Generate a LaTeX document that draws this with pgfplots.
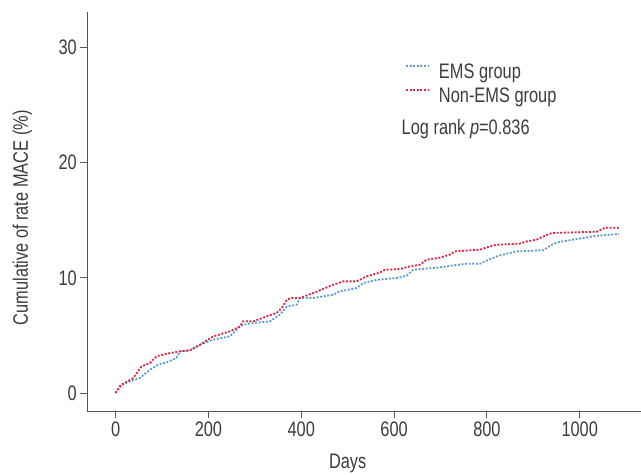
\documentclass[border=0pt]{standalone}
\usepackage{fontspec}
\setmainfont{Liberation Sans}[FakeStretch=0.78]
\usepackage{pgfplots}
\pgfplotsset{compat=1.18}
\definecolor{emsblue}{RGB}{90,155,215}
\definecolor{nemsred}{RGB}{222,36,66}
\definecolor{txt}{RGB}{60,60,60}
\definecolor{axc}{RGB}{85,85,85}
\newcommand\lbl{\fontsize{21}{25}\selectfont}
\begin{document}
\begin{tikzpicture}
\begin{axis}[
 name=ax,
 scale only axis, width=553.7pt, height=399.7pt,
 xmin=-61, xmax=1132, ymin=-1.6, ymax=33.1,
 clip=false,
 axis lines*=left,
 axis line style={axc, line width=0.9pt},
 xtick={0,200,400,600,800,1000}, ytick={0,10,20,30},
 tick style={axc, line width=0.9pt},
 tick align=outside, major tick length=7pt,
 tick label style={font=\lbl, text=txt},
 /pgf/number format/assume math mode=true,
 /pgf/number format/set thousands separator={},
 legend style={at={(axis cs:623.5,28.65)}, anchor=north west, draw=none, fill=none,
   inner sep=0pt, row sep=5.3pt, font=\lbl, text=txt,
   nodes={inner sep=0pt, text height=15pt, text depth=4pt}},
 legend cell align=left,
 legend image code/.code={\draw[#1] (0pt,7pt) -- (23pt,7pt); \path (32pt,7pt);},
]
\addplot[emsblue, line width=1.8pt, dash pattern=on 2pt off 1.6pt] coordinates {
(0,0) (9,0.63) (31,1.01) (52,1.30) (74,2.02) (92,2.46) (110,2.66) (131,3.04)
(139,3.61) (160,3.70) (182,4.19) (210,4.63) (246,4.91) (268,5.78) (275,5.93)
(297,6.08) (333,6.22) (354,6.80) (369,7.52) (390,7.66) (397,8.25) (426,8.25)
(469,8.53) (483,8.82) (519,9.11) (534,9.55) (563,9.83) (605,9.98) (627,10.18)
(641,10.70) (684,10.85) (706,10.94) (728,11.08) (756,11.22) (785,11.22)
(807,11.63) (828,11.95) (864,12.29) (922,12.40) (936,12.79) (950,13.07)
(986,13.31) (1037,13.65) (1085,13.80)
};
\addlegendentry{EMS group}
\addplot[nemsred, line width=1.8pt, dash pattern=on 2pt off 1.6pt] coordinates {
(0,0) (13,0.72) (38,1.30) (56,2.31) (74,2.60) (88,3.18) (110,3.41) (139,3.61)
(160,3.70) (182,4.19) (210,4.91) (246,5.35) (268,5.78) (275,6.22) (297,6.22)
(325,6.65) (347,6.94) (358,7.38) (369,8.10) (379,8.25) (397,8.25) (426,8.68)
(469,9.40) (491,9.69) (519,9.69) (541,10.12) (570,10.47) (580,10.70) (613,10.76)
(634,10.99) (656,11.14) (670,11.57) (699,11.75) (720,12.01) (731,12.29)
(785,12.44) (807,12.73) (821,12.87) (870,12.96) (886,13.16) (907,13.31)
(922,13.59) (940,13.89) (1037,14.00) (1055,14.35) (1085,14.35)
};
\addlegendentry{Non-EMS group}
\node[anchor=base west, text=txt, font=\lbl, inner sep=0pt] at (axis cs:616,22.47) {Log rank \textit{p}=0.836};
\node[anchor=base, text=txt, font=\lbl, inner sep=0pt] at (axis cs:500,-6.55) {Days};
\node[anchor=base, rotate=90, text=txt, font=\lbl, inner sep=0pt] at (axis cs:-189,15.2) {Cumulative of rate MACE (\%)};
\end{axis}
\pgfresetboundingbox
\useasboundingbox ([xshift=-87.3pt,yshift=-63.3pt]ax.south west) rectangle ([yshift=11.7pt]ax.north east);
\end{tikzpicture}
\end{document}
